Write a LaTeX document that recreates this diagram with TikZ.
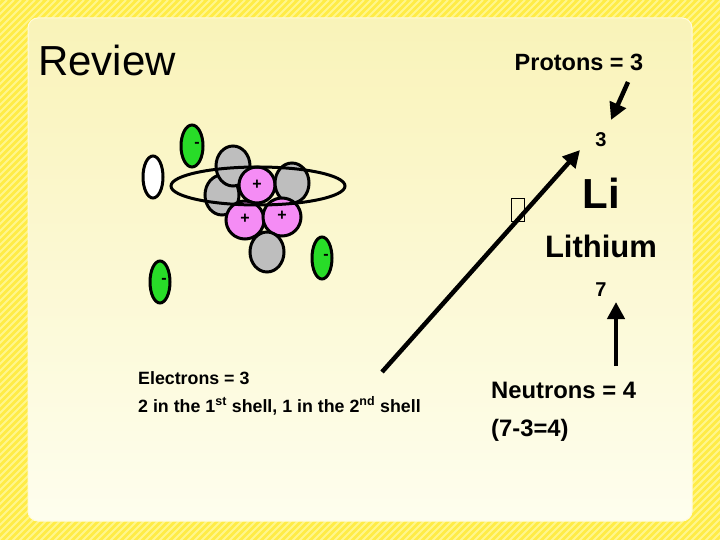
\documentclass[tikz,border=0pt]{standalone}
\usepackage{fontspec}
\setmainfont{Liberation Sans}
\usetikzlibrary{arrows.meta}
\definecolor{frameY}{RGB}{255,236,70}
\definecolor{stripeY}{RGB}{255,246,140}
\definecolor{panelT}{RGB}{249,243,185}
\definecolor{panelB}{RGB}{254,254,238}
\definecolor{elec}{RGB}{40,220,40}
\definecolor{prot}{RGB}{245,140,245}
\definecolor{neut}{RGB}{190,190,190}
\tikzset{
  x=1pt,y=-1pt,
  partline/.style={draw=black,line width=3pt},
  electron/.style={partline,fill=elec},
  proton/.style={partline,fill=prot},
  neutron/.style={partline,fill=neut},
  bigarrow/.style={line width=4.5pt,-{Triangle[length=17pt,width=17pt]}},
  lbl/.style={font=\bfseries,inner sep=0pt},
}
\begin{document}
\begin{tikzpicture}
\useasboundingbox (0,0) rectangle (720,540);
\fill[frameY] (0,0) rectangle (720,540);
\begin{scope}
\clip (0,0) rectangle (720,540);
\foreach \i in {0,...,190}{
  \draw[stripeY,line width=2pt] (\i*7,0) -- ++(-560,560);
}
\end{scope}
\shade[top color=panelT,bottom color=panelB,rounded corners=10pt,draw=white!80!frameY,line width=1pt] (28,18) rectangle (692,521);
% texts
\node[anchor=base west,inner sep=0pt,font=\fontsize{42}{48}\selectfont] (review) at (38,76) {Review};
\node[lbl,font=\bfseries\fontsize{23.5}{28}\selectfont,anchor=base] (protons) at (579,71) {Protons = 3};
\node[lbl,font=\bfseries\fontsize{20}{24}\selectfont] (three) at (601,140) {3};
\node[lbl,font=\bfseries\fontsize{42}{48}\selectfont] (li) at (601,193) {Li};
\node[lbl,font=\bfseries\fontsize{31}{36}\selectfont] (lith) at (601,246) {Lithium};
\node[lbl,font=\bfseries\fontsize{20}{24}\selectfont] (seven) at (601,290) {7};
\node[lbl,font=\bfseries\fontsize{17.8}{22}\selectfont,anchor=base west] (elecs) at (138,384) {Electrons = 3};
\node[lbl,font=\bfseries\fontsize{17.8}{22}\selectfont,anchor=base west] (shell) at (138,412) {2 in the 1\textsuperscript{st} shell, 1 in the 2\textsuperscript{nd} shell};
\node[lbl,font=\bfseries\fontsize{23.8}{28}\selectfont,anchor=base west] (neutrons) at (491,398) {Neutrons = 4};
\node[lbl,font=\bfseries\fontsize{23.8}{28}\selectfont,anchor=base west] (calc) at (491,436) {(7-3=4)};
% arrows
\coordinate (p1) at (628,82); \coordinate (p2) at (611,120);
\draw[bigarrow] (p1) -- (p2);
\coordinate (a1) at (382,372); \coordinate (a2) at (580,150);
\draw[bigarrow] (a1) -- (a2);
\coordinate (n1) at (616,366); \coordinate (n2) at (616,302);
\draw[bigarrow] (n1) -- (n2);
\node[draw=black,line width=1.5pt,minimum width=13pt,minimum height=23pt,inner sep=0pt] (box) at (518,210) {};
% atom
\draw[electron] (192,146) ellipse (11 and 21);
\node[lbl,font=\bfseries\fontsize{16}{16}\selectfont] (e1) at (197,145) {-};
\draw[partline,fill=white] (153,177) ellipse (10 and 21);
\draw[neutron] (222,195) ellipse (17 and 20);
\draw[neutron] (233,166) ellipse (17 and 20);
\draw[proton] (257,185) circle (18);
\draw[neutron] (292,183) ellipse (17 and 20);
\draw[proton] (245,220) circle (19);
\draw[proton] (282,217) circle (19);
\draw[neutron] (267,252) ellipse (17 and 20);
\draw[partline] (258,186) ellipse (87 and 19);
\node[lbl,font=\bfseries\fontsize{16}{16}\selectfont] (pl1) at (257,185) {+};
\node[lbl,font=\bfseries\fontsize{16}{16}\selectfont] (pl2) at (245,219) {+};
\node[lbl,font=\bfseries\fontsize{16}{16}\selectfont] (pl3) at (282,216) {+};
\draw[electron] (322,258) ellipse (10 and 21);
\node[lbl,font=\bfseries\fontsize{16}{16}\selectfont] (e2) at (326,257) {-};
\draw[electron] (160,282) ellipse (10 and 21);
\node[lbl,font=\bfseries\fontsize{16}{16}\selectfont] (e3) at (164,281) {-};
\end{tikzpicture}
\end{document}
